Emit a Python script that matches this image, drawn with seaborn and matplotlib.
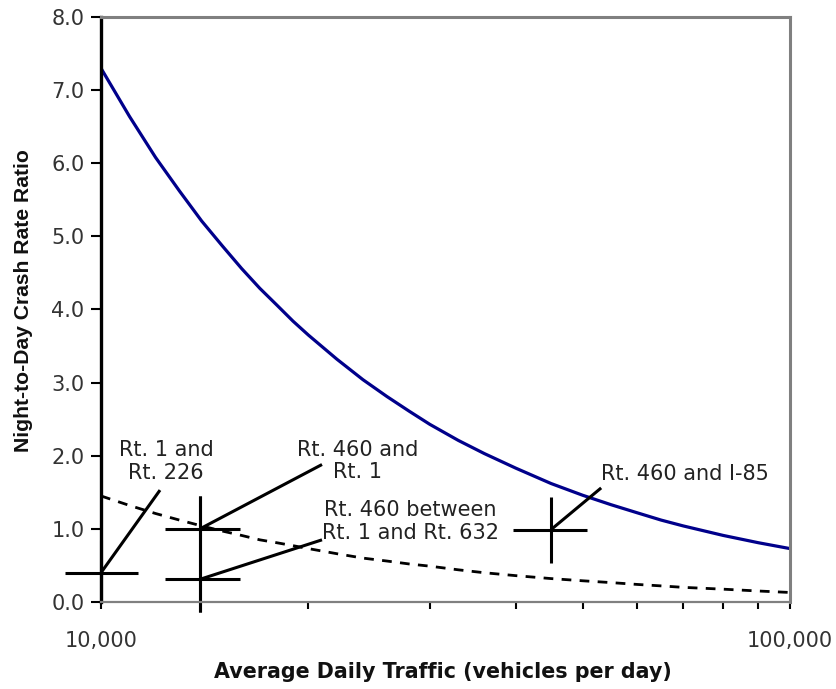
import matplotlib
matplotlib.use("Agg")
import matplotlib.pyplot as plt
import matplotlib.ticker as mticker
import seaborn as sns
import pandas as pd

# curves
adt = [10000, 11000, 12000, 13000, 14000, 15000, 16000, 17000, 18000, 19000,
       20000, 22000, 24000, 26000, 28000, 30000, 33000, 36000, 40000, 45000,
       50000, 55000, 60000, 65000, 70000, 80000, 90000, 100000]
ratio_solid = [7.30, 6.64, 6.08, 5.62, 5.21, 4.87, 4.56, 4.29, 4.06, 3.84,
               3.65, 3.32, 3.04, 2.81, 2.61, 2.43, 2.21, 2.03, 1.83, 1.62,
               1.46, 1.33, 1.22, 1.12, 1.04, 0.91, 0.81, 0.73]
ratio_dashed = [1.45, 1.32, 1.21, 1.12, 1.04, 0.97, 0.91, 0.85, 0.81, 0.77,
                0.73, 0.66, 0.60, 0.56, 0.52, 0.49, 0.44, 0.40, 0.36, 0.32,
                0.29, 0.265, 0.24, 0.22, 0.20, 0.175, 0.15, 0.13]

# site crosses: centre, horizontal extent, vertical extent
sites = ["Rt. 1 and\nRt. 226", "Rt. 460 and\nRt. 1",
         "Rt. 460 between\nRt. 1 and Rt. 632", "Rt. 460 and I-85"]
site_adt = [10000, 13920, 13920, 45000]
site_ratio = [0.40, 1.00, 0.31, 0.99]
site_xlo = [8870, 12380, 12380, 39600]
site_xhi = [11320, 15910, 15910, 50700]
site_ylo = [0.0, -0.14, -0.14, 0.53]
site_yhi = [0.85, 1.45, 1.45, 1.44]
leader_x = [12180, 20930, 20930, 53200]
leader_y = [1.53, 1.88, 0.85, 1.56]
label_x = [12430, 23600, 28100, 70400]
label_y = [1.92, 1.93, 1.10, 1.75]

df = pd.DataFrame({"adt": adt, "solid": ratio_solid, "dashed": ratio_dashed})

sns.set_theme(style="white")
plt.rcParams["font.family"] = ["DejaVu Sans"]

fig = plt.figure(figsize=(8.36, 6.89), dpi=100)
ax = fig.add_axes([0.1208, 0.1263, 0.8242, 0.849])

sns.lineplot(data=df, x="adt", y="solid", ax=ax, color="#00008b", lw=2.3)
sns.lineplot(data=df, x="adt", y="dashed", ax=ax, color="black", lw=2.0)
ax.lines[-1].set_dashes((3.5, 3))

for i in range(len(sites)):
    ax.plot([site_xlo[i], site_xhi[i]], [site_ratio[i]] * 2, color="black",
            lw=2.2, clip_on=False, solid_capstyle="butt")
    ax.plot([site_adt[i]] * 2, [site_ylo[i], site_yhi[i]], color="black",
            lw=2.2, clip_on=False, solid_capstyle="butt")
    ax.plot([site_adt[i], leader_x[i]], [site_ratio[i], leader_y[i]],
            color="black", lw=2.2, solid_capstyle="butt")
    ax.text(label_x[i], label_y[i], sites[i], ha="center", va="center",
            fontsize=15, color="#222222", linespacing=1.15)

ax.set_xscale("log")
ax.set_xlim(10000, 100000)
ax.set_ylim(0, 8)
ax.set_yticks([0, 1, 2, 3, 4, 5, 6, 7, 8])
ax.yaxis.set_major_formatter(mticker.FormatStrFormatter("%.1f"))
ax.xaxis.set_major_locator(mticker.FixedLocator([10000, 100000]))
ax.xaxis.set_major_formatter(mticker.FuncFormatter(lambda v, p: f"{int(v):,}"))
ax.xaxis.set_minor_locator(mticker.FixedLocator([20000, 30000, 40000, 50000,
                                                 60000, 70000, 80000, 90000]))
ax.xaxis.set_minor_formatter(mticker.NullFormatter())

ax.tick_params(axis="y", which="major", direction="out", length=7, width=1.5,
               color="black", labelsize=15, labelcolor="#333333", pad=5, left=True)
ax.tick_params(axis="x", which="major", direction="out", length=5, width=1.5,
               color="black", labelsize=15, labelcolor="#333333", pad=16, bottom=True)
ax.tick_params(axis="x", which="minor", direction="out", length=5, width=1.5,
               color="black", bottom=True)

for side in ["top", "right", "bottom"]:
    ax.spines[side].set_color("#808080")
    ax.spines[side].set_linewidth(2.2)
ax.spines["bottom"].set_linewidth(1.6)
ax.spines["left"].set_color("black")
ax.spines["left"].set_linewidth(2.4)

ax.set_xlabel("Average Daily Traffic (vehicles per day)", fontsize=14.9,
              fontweight="bold", color="#111111")
ax.set_ylabel("Night-to-Day Crash Rate Ratio", fontsize=15.2,
              fontweight="bold", family=["Liberation Sans"], color="#111111")
ax.xaxis.set_label_coords(0.4955, -0.1026)
ax.yaxis.set_label_coords(-0.099, 0.5145)

fig.savefig("out.png", dpi=100)
